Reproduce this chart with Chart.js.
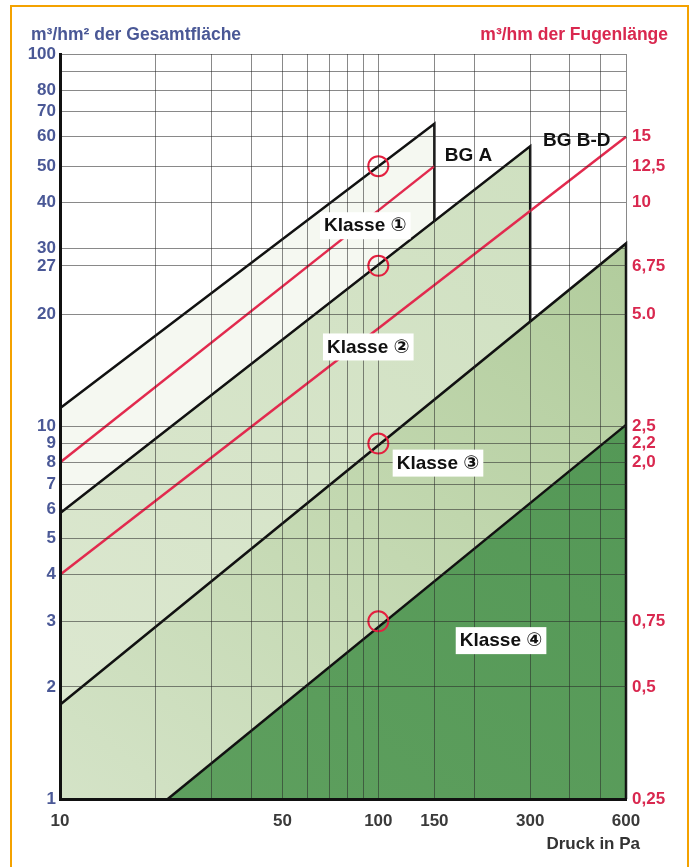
<!DOCTYPE html>
<html>
<head>
<meta charset="utf-8">
<script src="https://cdn.jsdelivr.net/npm/chart.js@4.4.1/dist/chart.umd.min.js"></script>
<style>
  html, body { margin: 0; padding: 0; background: #fff; }
  #wrap { position: relative; width: 693px; height: 867px; overflow: hidden; }
  #frame { position: absolute; left: 10px; top: 5px; width: 679px; height: 900px;
           border: 2px solid #f4a200; box-sizing: border-box; }
  #c { position: absolute; left: 0; top: 0; }
</style>
</head>
<body>
<div id="wrap">
  <div id="frame"></div>
  <canvas id="c" width="693" height="867"></canvas>
</div>
<script>
// Pressure grid (Pa) and the values that carry a label
const pressureGrid = [10, 20, 30, 40, 50, 60, 70, 80, 90, 100, 150, 200, 300, 400, 500, 600];
const pressureLabels = [10, 50, 100, 150, 300, 600];

// m³/hm² grid (left axis) and the values that carry a label
const areaGrid = [1, 2, 3, 4, 5, 6, 7, 8, 9, 10, 20, 27, 30, 40, 50, 60, 70, 80, 90, 100];
const areaLabels = [1, 2, 3, 4, 5, 6, 7, 8, 9, 10, 20, 27, 30, 40, 50, 60, 70, 80, 100];

// m³/hm ticks (right axis, a quarter of the left values) and their printed text
const jointTicks = [0.25, 0.5, 0.75, 2.0, 2.25, 2.5, 5.0, 6.75, 10, 12.5, 15];
const jointTickText = ['0,25', '0,5', '0,75', '2,0', '2,2', '2,5', '5.0', '6,75', '10', '12,5', '15'];

// Class boundary lines, m³/hm² over pressure in Pa
const klasse1Line = [{ x: 10, y: 11.2 }, { x: 150, y: 65 }];
const klasse2Line = [{ x: 10, y: 5.85 }, { x: 300, y: 56.5 }];
const klasse3Line = [{ x: 10, y: 1.79 }, { x: 600, y: 31 }];
const klasse4Line = [{ x: 21.8, y: 1 }, { x: 600, y: 10.1 }];

// Test pressure limits
const limitBGA = 150;
const limitBGBD = 300;
const limitMax = 600;

// Joint-length lines, m³/hm over pressure in Pa
const fuge1Line = [{ x: 10, y: 2.0 }, { x: 150, y: 12.5 }];
const fuge2Line = [{ x: 10, y: 1.0 }, { x: 600, y: 15 }];

// Reference values at 100 Pa
const refPoints = [{ x: 100, y: 50 }, { x: 100, y: 27 }, { x: 100, y: 9 }, { x: 100, y: 3 }];

// Text labels placed in data space
const boxLabels = [
  { text: 'Klasse \u2460', x: 91, y: 34.7, box: true },
  { text: 'Klasse \u2461', x: 93, y: 16.4, box: true },
  { text: 'Klasse \u2462', x: 154, y: 8.0, box: true },
  { text: 'Klasse \u2463', x: 243, y: 2.67, box: true },
  { text: 'BG A', x: 192, y: 53.6, box: false },
  { text: 'BG B-D', x: 420, y: 58.8, box: false }
];

// value of a straight log-log line at pressure p
function at(line, p) {
  const [a, b] = line;
  const t = Math.log(p / a.x) / Math.log(b.x / a.x);
  return Math.exp(Math.log(a.y) + t * Math.log(b.y / a.y));
}

const k2AtBGA = { x: limitBGA, y: at(klasse2Line, limitBGA) };
const k3AtBGBD = { x: limitBGBD, y: at(klasse3Line, limitBGBD) };

const area1 = [klasse1Line[0], klasse1Line[1], k2AtBGA, klasse2Line[0]];
const area2 = [klasse2Line[0], klasse2Line[1], k3AtBGBD, klasse3Line[0]];
const area3 = [klasse3Line[0], klasse3Line[1], klasse4Line[1], klasse4Line[0], { x: 10, y: 1 }];
const area4 = [klasse4Line[0], klasse4Line[1], { x: limitMax, y: 1 }];

const border1 = [klasse1Line[0], klasse1Line[1], k2AtBGA];
const border2 = [klasse2Line[0], klasse2Line[1], k3AtBGBD];
const border3 = [klasse3Line[0], klasse3Line[1], { x: limitMax, y: 1 }];
const border4 = klasse4Line;

const FONT = '"Liberation Sans", "DejaVu Sans", Arial, sans-serif';
const BLUE = '#4a5896';
const RED = '#d9284f';

function hGradient(stops, fallback) {
  return (ctx) => {
    const area = ctx.chart.chartArea;
    if (!area) return fallback;
    const g = ctx.chart.ctx.createLinearGradient(area.left, area.bottom, area.right, area.top);
    stops.forEach(([o, c]) => g.addColorStop(o, c));
    return g;
  };
}

function areaSet(data, color, order) {
  return {
    data, order, fill: 'shape', backgroundColor: color, borderWidth: 0,
    pointRadius: 0, tension: 0, yAxisID: 'y', clip: false
  };
}
function lineSet(data, color, order, axis) {
  return {
    data, order, fill: false, borderColor: color, borderWidth: 2.5,
    pointRadius: 0, tension: 0, yAxisID: axis, clip: false
  };
}

// Boxed class labels and the headings
const textPlugin = {
  id: 'texts',
  afterDraw(chart) {
    const { ctx, scales } = chart;
    ctx.save();
    ctx.font = 'bold 19px ' + FONT;
    ctx.textBaseline = 'middle';
    ctx.textAlign = 'center';
    boxLabels.forEach(l => {
      const px = scales.x.getPixelForValue(l.x);
      const py = scales.y.getPixelForValue(l.y);
      const w = ctx.measureText(l.text).width;
      if (l.box) {
        ctx.fillStyle = '#fff';
        ctx.fillRect(px - w / 2 - 4, py - 13, w + 8, 27);
      }
      ctx.fillStyle = '#111';
      ctx.fillText(l.text, px, py + 1);
    });
    ctx.font = 'bold 17.5px ' + FONT;
    ctx.textAlign = 'left';
    ctx.fillStyle = BLUE;
    ctx.fillText('m\u00b3/hm\u00b2 der Gesamtfl\u00e4che', 31, 35);
    ctx.textAlign = 'right';
    ctx.fillStyle = RED;
    ctx.fillText('m\u00b3/hm der Fugenl\u00e4nge', 668, 35);
    ctx.font = 'bold 17px ' + FONT;
    ctx.fillStyle = '#333';
    ctx.fillText('Druck in Pa', 640, 844);
    ctx.restore();
  }
};

const gridStyle = { color: 'rgba(40,40,40,0.55)', lineWidth: 1, drawTicks: false, z: 1 };

new Chart(document.getElementById('c'), {
  type: 'line',
  data: {
    datasets: [
      {
        data: refPoints, order: 0, showLine: false, yAxisID: 'y',
        pointStyle: 'circle', pointRadius: 10, pointBorderWidth: 2,
        pointBorderColor: '#e4203f', pointBackgroundColor: 'rgba(0,0,0,0)', clip: false
      },
      lineSet(fuge1Line, '#e22a4e', 1, 'y2'),
      lineSet(fuge2Line, '#e22a4e', 1, 'y2'),
      lineSet(border1, '#111', 2, 'y'),
      lineSet(border2, '#111', 2, 'y'),
      lineSet(border3, '#111', 2, 'y'),
      lineSet(border4, '#111', 2, 'y'),
      areaSet(area4, hGradient([[0, '#5fa05f'], [1, '#4f9452']], '#58995a'), 3),
      areaSet(area3, hGradient([[0, '#d4e3c7'], [0.5, '#c0d6ad'], [1, '#aac794']], '#c2d7b0'), 4),
      areaSet(area2, hGradient([[0, '#dde8d1'], [1, '#cddfbe']], '#d9e6cd'), 5),
      areaSet(area1, '#f5f8f1', 6)
    ]
  },
  options: {
    responsive: false,
    animation: false,
    layout: { padding: { left: 0, top: 54, right: 0, bottom: 0 } },
    plugins: { legend: { display: false }, tooltip: { enabled: false } },
    scales: {
      x: {
        type: 'logarithmic', min: 10, max: 600, position: 'bottom',
        afterBuildTicks: s => { s.ticks = pressureGrid.map(v => ({ value: v })); },
        afterFit: s => { s.height = 68; },
        grid: gridStyle,
        border: { color: '#111', width: 3, z: 2 },
        ticks: {
          autoSkip: false, maxRotation: 0, padding: 12, color: '#3a3a3a',
          font: { family: FONT, size: 17, weight: 'bold' },
          callback: v => pressureLabels.includes(v) ? String(v) : ''
        }
      },
      y: {
        type: 'logarithmic', min: 1, max: 100, position: 'left',
        afterBuildTicks: s => { s.ticks = areaGrid.map(v => ({ value: v })); },
        afterFit: s => { s.width = 60; },
        grid: gridStyle,
        border: { color: '#111', width: 3, z: 2 },
        ticks: {
          autoSkip: false, padding: 4, color: BLUE,
          font: { family: FONT, size: 17, weight: 'bold' },
          callback: v => areaLabels.includes(v) ? String(v) : ''
        }
      },
      y2: {
        type: 'logarithmic', min: 0.25, max: 25, position: 'right',
        afterBuildTicks: s => { s.ticks = jointTicks.map(v => ({ value: v })); },
        afterFit: s => { s.width = 67; },
        grid: { display: false, drawTicks: false },
        border: { display: false },
        ticks: {
          autoSkip: false, padding: 6, color: RED,
          font: { family: FONT, size: 17, weight: 'bold' },
          callback: v => {
            const i = jointTicks.indexOf(v);
            return i >= 0 ? jointTickText[i] : '';
          }
        }
      }
    }
  },
  plugins: [textPlugin]
});
</script>
</body>
</html>
